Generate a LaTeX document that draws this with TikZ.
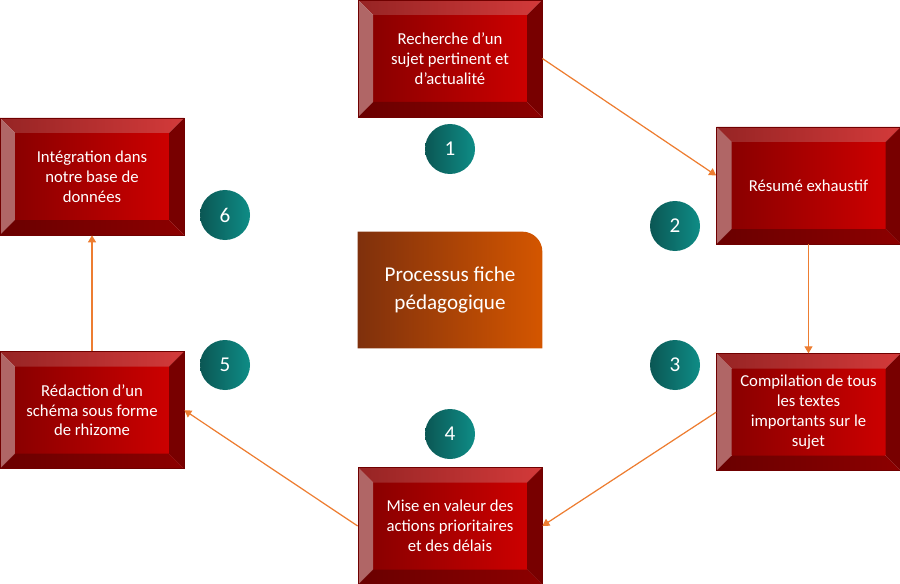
\documentclass[tikz,border=0pt]{standalone}
\usepackage{fontspec}
\setmainfont{Carlito}
\usetikzlibrary{arrows.meta,positioning,backgrounds}
\definecolor{pfFaceL}{HTML}{8A0000}
\definecolor{pfFaceR}{HTML}{CC0000}
\definecolor{pfTopL}{HTML}{962424}
\definecolor{pfTopR}{HTML}{D33A3A}
\definecolor{pfLeft}{HTML}{B06666}
\definecolor{pfRight}{HTML}{780000}
\definecolor{pfBotL}{HTML}{6A0000}
\definecolor{pfBotR}{HTML}{8C0000}
\definecolor{pfEdge}{HTML}{700000}
\definecolor{pfBrownL}{HTML}{7F300C}
\definecolor{pfBrownR}{HTML}{D45600}
\definecolor{pfTealL}{HTML}{0B5754}
\definecolor{pfTealR}{HTML}{0E8C86}
\definecolor{pfArrow}{HTML}{ED7D31}
\def\bv{3mm}
\tikzset{
  stepbox/.style  ={draw=pfEdge,line width=0.4pt,minimum width=36.8mm,minimum height=23.4mm,
                    inner sep=0pt,align=center,text=white,font=\fontsize{9.5}{11.3}\selectfont,
                    path picture={
                      \coordinate (nw) at (path picture bounding box.north west);
                      \coordinate (ne) at (path picture bounding box.north east);
                      \coordinate (sw) at (path picture bounding box.south west);
                      \coordinate (se) at (path picture bounding box.south east);
                      \shade[left color=pfFaceL,right color=pfFaceR]
                        ([shift={(\bv,-\bv)}]nw) rectangle ([shift={(-\bv,\bv)}]se);
                      \shade[left color=pfTopL,right color=pfTopR]
                        (nw) -- (ne) -- ([shift={(-\bv,-\bv)}]ne) -- ([shift={(\bv,-\bv)}]nw) -- cycle;
                      \fill[pfLeft]
                        (nw) -- ([shift={(\bv,-\bv)}]nw) -- ([shift={(\bv,\bv)}]sw) -- (sw) -- cycle;
                      \fill[pfRight]
                        (ne) -- (se) -- ([shift={(-\bv,\bv)}]se) -- ([shift={(-\bv,-\bv)}]ne) -- cycle;
                      \shade[left color=pfBotL,right color=pfBotR]
                        (sw) -- (se) -- ([shift={(-\bv,\bv)}]se) -- ([shift={(\bv,\bv)}]sw) -- cycle;
                    }},
  titlebox/.style ={minimum width=36.8mm,minimum height=23.2mm,inner sep=0pt,align=center,
                    text=white,font=\fontsize{12}{15.4}\selectfont},
  numdot/.style   ={circle,minimum size=10mm,inner sep=0pt,left color=pfTealL,right color=pfTealR,
                    text=white,font=\fontsize{12}{14}\selectfont},
  flow/.style     ={-{Triangle[length=1.4mm,width=1.6mm]},pfArrow,line width=0.7pt},
}
\begin{document}
\begin{tikzpicture}[x=0.2mm,y=-0.2mm]
\useasboundingbox (0,0) rectangle (900,584);

% steps
\node[stepbox] (sujet) at (450,58.5) {Recherche d’un\\sujet pertinent et\\d’actualité};
\node[stepbox] (resume) at (808.5,185.5) {Résumé exhaustif};
\node[stepbox,below=21.8mm of resume] (compil) {Compilation de tous\\les textes\\importants sur le\\sujet};
\node[stepbox] (valeur) at (450,526) {Mise en valeur des\\actions prioritaires\\et des délais};
\node[stepbox] (base) at (92,176.5) {Intégration dans\\notre base de\\données};
\node[stepbox,below=23.2mm of base] (rhizome) {Rédaction d’un\\schéma sous forme\\de rhizome};

% centre
\node[titlebox] (titre) at (450,290) {Processus fiche\\pédagogique};
\begin{scope}[on background layer]
\shade[left color=pfBrownL,right color=pfBrownR]
  (titre.south west) -- (titre.north west) -- ([xshift=-4mm]titre.north east)
  arc[start angle=90,end angle=0,radius=4mm] -- (titre.south east) -- cycle;
\end{scope}

% numbers
\node[numdot] (c1) at (450,149) {1};
\node[numdot] (c2) at (675,226) {2};
\node[numdot] (c3) at (675,365) {3};
\node[numdot] (c4) at (450,434) {4};
\node[numdot] (c5) at (225,365) {5};
\node[numdot] (c6) at (225,215) {6};

\draw[flow] (sujet.east) -- ([yshift=2mm]resume.west);
\draw[flow] (resume.south) -- (compil.north);
\draw[flow] (compil.west) -- (valeur.east);
\draw[flow] (valeur.west) -- (rhizome.east);
\draw[flow] (rhizome.north) -- (base.south);
\end{tikzpicture}
\end{document}
